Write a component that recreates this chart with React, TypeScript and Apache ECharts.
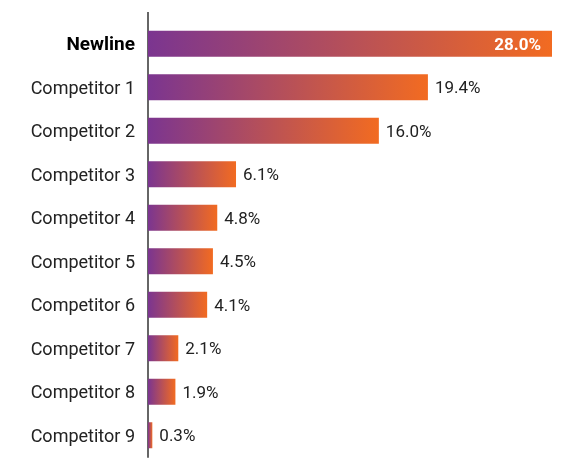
import React, { useEffect, useRef } from "react";
import * as echarts from "echarts";

const categories = [
  "Newline",
  "Competitor 1",
  "Competitor 2",
  "Competitor 3",
  "Competitor 4",
  "Competitor 5",
  "Competitor 6",
  "Competitor 7",
  "Competitor 8",
  "Competitor 9",
];
const shares = [28.0, 19.4, 16.0, 6.1, 4.8, 4.5, 4.1, 2.1, 1.9, 0.3];

export default function App() {
  const ref = useRef<HTMLDivElement>(null);
  useEffect(() => {
    if (!ref.current) return;
    const chart = echarts.init(ref.current, undefined, { renderer: "svg" });
    const grad = new echarts.graphic.LinearGradient(0, 0, 1, 0, [
      { offset: 0, color: "#7B3590" },
      { offset: 1, color: "#F26B21" },
    ]);
    chart.setOption({
      animation: false,
      grid: { left: 148, right: 33, top: 22, bottom: 14 },
      xAxis: {
        type: "value",
        min: 0,
        max: 28,
        show: false,
      },
      yAxis: {
        type: "category",
        inverse: true,
        data: categories,
        axisLine: { show: true, lineStyle: { color: "#666", width: 2 } },
        axisTick: { show: false },
        axisLabel: {
          fontFamily: "Roboto",
          fontSize: 18,
          fontWeight: 400,
          color: "#222",
          margin: 13,
          formatter: (v: string) => (v === "Newline" ? "{b|" + v + "}" : v),
          rich: {
            b: { fontFamily: "Roboto", fontSize: 19, fontWeight: "bold", color: "#000" },
          },
        },
      },
      graphic: [
        {
          type: "line",
          shape: { x1: 148, y1: 12, x2: 148, y2: 22 },
          style: { stroke: "#666", lineWidth: 2 },
          z: 10,
        },
      ],
      series: [
        {
          type: "bar",
          data: shares.map((v, i) =>
            i === 0
              ? {
                  value: v,
                  label: {
                    position: "insideRight",
                    color: "#fff",
                    fontWeight: "bold",
                    fontSize: 17,
                    distance: 11,
                  },
                }
              : v
          ),
          barWidth: 26,
          itemStyle: { color: grad },
          label: {
            show: true,
            position: "right",
            distance: 7,
            fontFamily: "Roboto",
            fontSize: 17,
            fontWeight: 400,
            color: "#222",
            formatter: (p: any) => Number(p.value).toFixed(1) + "%",
          },
        },
      ],
    });
    return () => chart.dispose();
  }, []);
  return (
    <div
      ref={ref}
      style={{ position: "fixed", left: 0, top: 0, width: 585, height: 471 }}
    />
  );
}
